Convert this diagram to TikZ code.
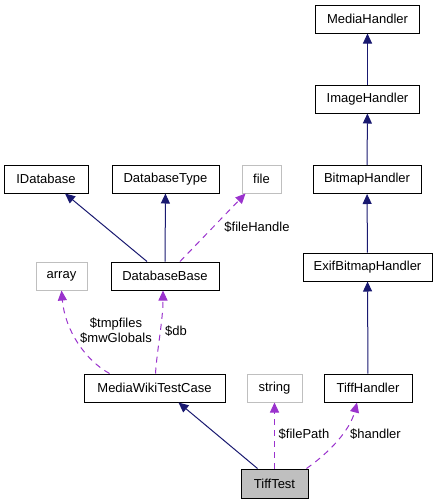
\documentclass[tikz,border=0pt]{standalone}
\usepackage{fontspec}
\setmainfont{Liberation Sans}
\usetikzlibrary{arrows.meta}
\definecolor{navy}{HTML}{191970}
\definecolor{orchid}{HTML}{9A32CD}
\definecolor{greyline}{HTML}{BFBFBF}
\tikzset{
  cls/.style={draw=black,line width=1pt,minimum height=28pt,inner sep=0pt,font=\fontsize{13}{15}\selectfont},
  ext/.style={cls,draw=greyline},
  inh/.style={navy,line width=1pt,-{Triangle[length=10pt,width=9pt]}},
  use/.style={orchid,line width=1pt,dashed,dash pattern=on 6pt off 5pt,-{Triangle[length=10pt,width=9pt]}},
  lbl/.style={font=\fontsize{13}{15}\selectfont,inner sep=0pt}
}
\begin{document}
\begin{tikzpicture}[x=1pt,y=-1pt]
  \useasboundingbox (0,0) rectangle (439,504);
  % right column
  \node[cls,minimum width=104pt] (mediahandler) at (367.5,19) {MediaHandler};
  \node[cls,minimum width=104pt] (imagehandler) at (367.5,99) {ImageHandler};
  \node[cls,minimum width=108pt] (bitmaphandler) at (367,179.5) {BitmapHandler};
  \node[cls,minimum width=129pt] (exifhandler) at (367.5,267) {ExifBitmapHandler};
  \node[cls,minimum width=88pt] (tiffhandler) at (368,388) {TiffHandler};
  % left side
  \node[cls,minimum width=84pt] (idatabase) at (46,179) {IDatabase};
  \node[cls,minimum width=107pt] (dbtype) at (165.5,179) {DatabaseType};
  \node[ext,minimum width=39pt] (file) at (261.5,179) {file};
  \node[ext,minimum width=51pt] (array) at (61.5,276) {array};
  \node[cls,minimum width=108pt] (dbbase) at (165,276) {DatabaseBase};
  \node[cls,minimum width=141pt] (testcase) at (154.5,388) {MediaWikiTestCase};
  \node[ext,minimum width=55pt] (string) at (274.5,388) {string};
  \node[cls,fill=greyline,minimum width=67pt,minimum height=29pt] (tifftest) at (274.5,483.5) {TiffTest};
  % inheritance
  \draw[inh] (imagehandler) -- (mediahandler);
  \draw[inh] (bitmaphandler) -- (imagehandler);
  \draw[inh] (exifhandler) -- (bitmaphandler);
  \draw[inh] (tiffhandler) -- (exifhandler);
  \draw[inh] ([xshift=-18pt]dbbase.north) -- ([xshift=19pt]idatabase.south);
  \draw[inh] (dbbase) -- (dbtype);
  \draw[inh] ([xshift=-17pt]tifftest.north) -- ([xshift=24pt]testcase.south);
  % members
  \draw[use] ([xshift=15pt]dbbase.north) -- ([xshift=-16pt]file.south);
  \draw[use] ([xshift=-45pt]testcase.north) .. controls (85,360) and (65,330) .. (array.south);
  \draw[use] ([xshift=1pt]testcase.north) .. controls (157,350) and (163,320) .. ([xshift=-2pt]dbbase.south);
  \draw[use] (tifftest) -- (string);
  \draw[use] ([xshift=32pt]tifftest.north) .. controls (330,452) and (350,430) .. ([xshift=-11pt]tiffhandler.south);
  % labels
  \node[lbl] (lfile) at (257,227) {\$fileHandle};
  \node[lbl,align=center] (lglobals) at (116,331) {\$tmpfiles\\\$mwGlobals};
  \node[lbl] (ldb) at (176,331) {\$db};
  \node[lbl] (lpath) at (304,434) {\$filePath};
  \node[lbl] (lhandler) at (375.5,434) {\$handler};
\end{tikzpicture}
\end{document}
